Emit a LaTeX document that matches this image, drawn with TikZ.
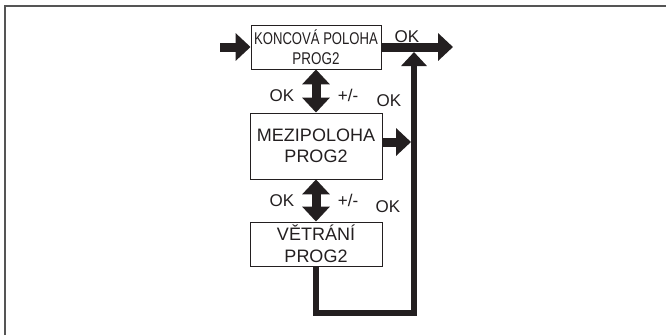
\documentclass[tikz,border=0pt]{standalone}
\usepackage{fontspec}
\usepackage{graphicx}
\setmainfont{Liberation Sans}
\usetikzlibrary{arrows.meta}
\definecolor{ink}{HTML}{231F20}
\definecolor{framec}{HTML}{555555}
\begin{document}
\begin{tikzpicture}[x=1pt,y=-1pt,
  boxstyle/.style={draw=ink,line width=0.9pt,inner sep=0pt,align=center,
    text=ink,font=\fontsize{18}{21}\selectfont},
  lbl/.style={text=ink,font=\fontsize{17}{20}\selectfont,inner sep=0pt},
  fatarrow/.style={draw=ink,line width=9pt,-{Triangle[width=27pt,length=15pt]}},
  dblarrow/.style={draw=ink,line width=9pt,{Triangle[width=27pt,length=15pt]}-{Triangle[width=27pt,length=15pt]}},
  loopline/.style={draw=ink,line width=6pt,-{Triangle[width=25pt,length=14pt]}}
]
\useasboundingbox (0,0) rectangle (666,335);
\fill[white] (0,0) rectangle (666,335);
\draw[framec,line width=2pt] (4.5,335) -- (4.5,5.5) -- (666,5.5);

\node[boxstyle,minimum width=130pt,minimum height=44pt,
  font=\fontsize{17}{20}\selectfont] (b1) at (316,47)
  {\scalebox{0.77}[1]{KONCOVÁ POLOHA}\\\scalebox{0.79}[1]{PROG2}};
\node[boxstyle,minimum width=132pt,minimum height=66pt] (b2) at (316,146)
  {MEZIPOLOHA\\PROG2};
\node[boxstyle,minimum width=132pt,minimum height=44pt,
  font=\fontsize{18}{22}\selectfont] (b3) at (316,244)
  {VĚTRÁNÍ\\PROG2};

\coordinate (in) at (220,47);
\coordinate (out) at (453,47);
\coordinate (tip) at (414,52);
\coordinate (corner1) at (316,313);
\coordinate (corner2) at (414,313);
\coordinate (m) at (411,142);

\draw[fatarrow] (in) -- (b1.west);
\draw[fatarrow] (b1.east) -- (out);
\draw[fatarrow] (b2.east |- m) -- (m);
\draw[dblarrow] (b1.south) -- (b2.north);
\draw[dblarrow] (b2.south) -- (b3.north);
\draw[loopline,line join=miter] (b3.south) -- (corner1) -- (corner2) -- (tip);

\node[lbl] (okout) at (407,37) {OK};
\node[lbl] (ok1l) at (282,95.5) {OK};
\node[lbl] (pm1) at (348,95) {+/-};
\node[lbl] (ok1r) at (389,101) {OK};
\node[lbl] (ok2l) at (282,201) {OK};
\node[lbl] (pm2) at (348,200) {+/-};
\node[lbl] (ok2r) at (388,207) {OK};
\end{tikzpicture}
\end{document}
